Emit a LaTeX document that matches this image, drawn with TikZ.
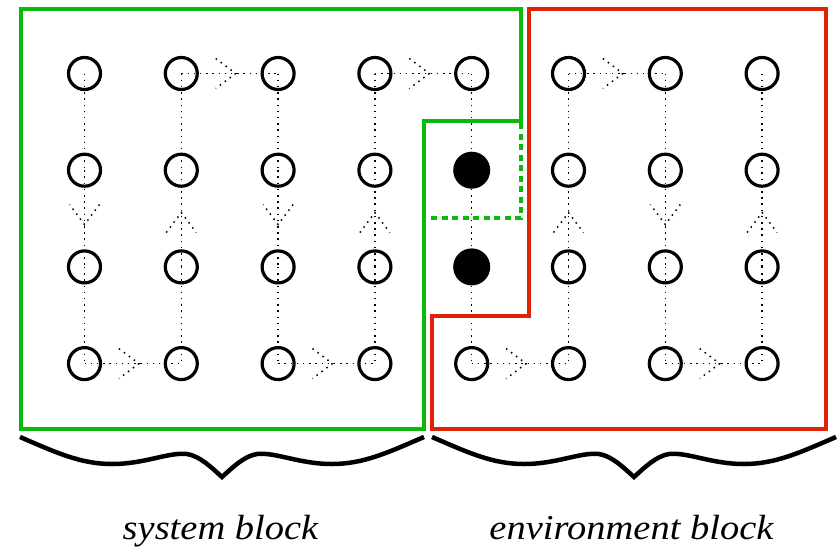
\documentclass[tikz,border=0pt]{standalone}
\usepackage{fontspec}
\setmainfont{Liberation Serif}
\usetikzlibrary{decorations.markings}
\definecolor{sysgreen}{RGB}{10,185,10}
\definecolor{envred}{RGB}{225,35,5}
\tikzset{
 site/.style={circle, draw, line width=3.2pt, minimum size=32pt, inner sep=0pt},
 fullsite/.style={circle, fill=black, minimum size=37pt, inner sep=0pt},
 link/.style={line width=1.5pt, dash pattern=on 1.5pt off 4.7pt},
 flow/.style={link, postaction={decorate, decoration={markings, mark=at position 0.5 with {\draw[link] (-14pt,15pt) -- (6pt,0pt) -- (-14pt,-15pt);}}}},
 frame/.style={line width=4pt},
 bracepath/.style={line width=4.5pt},
 curlyb/.pic={\draw[bracepath] (20,437) .. controls (55,452) and (80,464) .. (112,464) .. controls (145,464) and (168,452) .. (187,454) .. controls (200,456) and (212,468) .. (222,477) .. controls (232,468) and (244,456) .. (257,454) .. controls (276,452) and (299,464) .. (332,464) .. controls (364,464) and (389,452) .. (424,437);},
 lbl/.style={anchor=base, inner sep=0pt}
}
\begin{document}
\begin{tikzpicture}[x=1pt,y=-1pt]
\useasboundingbox (0,0) rectangle (840,549);
% sites
\foreach \c in {1,...,8}{
  \foreach \r in {1,...,4}{
    \pgfmathsetmacro\xx{84.5+96.8*(\c-1)}
    \pgfmathsetmacro\yy{73.5+96.7*(\r-1)}
    \coordinate (p\c\r) at (\xx,\yy);
  }
}
\foreach \c in {1,2,3,4,6,7,8}{
  \foreach \r in {1,...,4}{
    \node[site] (n\c\r) at (p\c\r) {};
  }
}
\node[site] (n51) at (p51) {};
\node[fullsite] (n52) at (p52) {};
\node[fullsite] (n53) at (p53) {};
\node[site] (n54) at (p54) {};
% plain vertical links
\foreach \c in {1,...,8}{
  \draw[link] (n\c1.center) -- (n\c2.center);
  \draw[link] (n\c3.center) -- (n\c4.center);
}
\draw[link] (n52.center) -- (n53.center);
% downward flows
\foreach \c in {1,3,7}{
  \draw[flow] (n\c2.center) -- (n\c3.center);
}
% upward flows
\foreach \c in {2,4,6,8}{
  \draw[flow] (n\c3.center) -- (n\c2.center);
}
% horizontal flows
\draw[flow] (n21.center) -- (n31.center);
\draw[flow] (n41.center) -- (n51.center);
\draw[flow] (n61.center) -- (n71.center);
\draw[flow] (n14.center) -- (n24.center);
\draw[flow] (n34.center) -- (n44.center);
\draw[flow] (n54.center) -- (n64.center);
\draw[flow] (n74.center) -- (n84.center);
% blocks
\draw[frame, sysgreen] (21,8.5) -- (520.5,8.5) -- (520.5,121) -- (423.5,121) -- (423.5,428.5) -- (21,428.5) -- cycle;
\draw[frame, sysgreen, dash pattern=on 6pt off 4.5pt] (520.5,123) -- (520.5,218) -- (430,218);
\draw[frame, envred] (529,8.5) -- (826,8.5) -- (826,428.5) -- (432,428.5) -- (432,316) -- (529,316) -- cycle;
% braces
\pic at (0,0) {curlyb};
\pic at (412,0) {curlyb};
% labels
\node[lbl] (sys) at (220.5,539) {\scalebox{1.1}[1]{\fontsize{35}{35}\selectfont\itshape system block}};
\node[lbl] (env) at (631.5,539) {\scalebox{1.1}[1]{\fontsize{35}{35}\selectfont\itshape environment block}};
\end{tikzpicture}
\end{document}
